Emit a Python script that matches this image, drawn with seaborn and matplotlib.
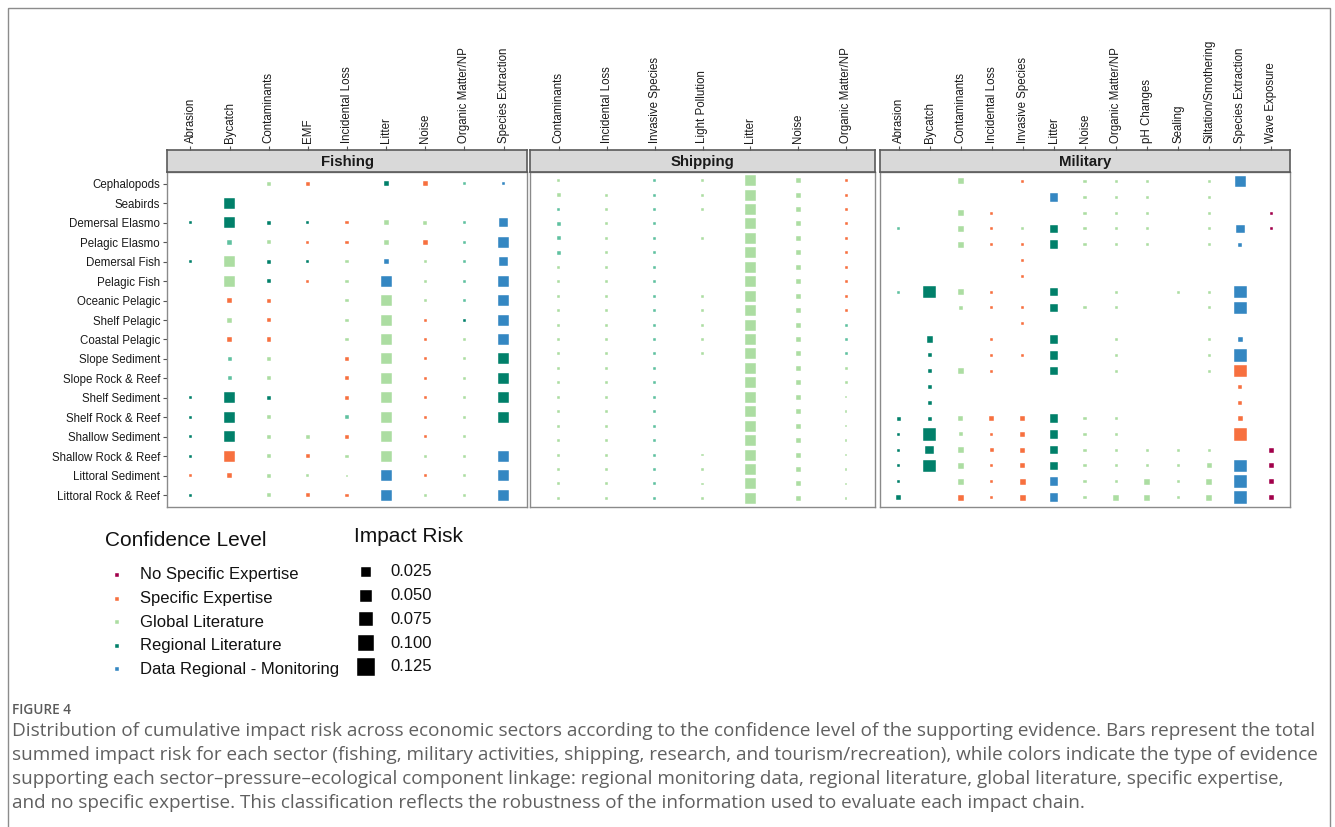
import numpy as np
import pandas as pd
import matplotlib
matplotlib.use("Agg")
import matplotlib.pyplot as plt
import seaborn as sns
from matplotlib.patches import Rectangle

# ecological components (only labelled on the Fishing panel)
components = ["Cephalopods", "Seabirds", "Demersal Elasmo", "Pelagic Elasmo",
              "Demersal Fish", "Pelagic Fish", "Oceanic Pelagic", "Shelf Pelagic",
              "Coastal Pelagic", "Slope Sediment", "Slope Rock & Reef", "Shelf Sediment",
              "Shelf Rock & Reef", "Shallow Sediment", "Shallow Rock & Reef",
              "Littoral Sediment", "Littoral Rock & Reef"]

fishing_pressures = ["Abrasion", "Bycatch", "Contaminants", "EMF", "Incidental Loss",
                     "Litter", "Noise", "Organic Matter/NP", "Species Extraction"]
shipping_pressures = ["Contaminants", "Incidental Loss", "Invasive Species",
                      "Light Pollution", "Litter", "Noise", "Organic Matter/NP"]
military_pressures = ["Abrasion", "Bycatch", "Contaminants", "Incidental Loss",
                      "Invasive Species", "Litter", "Noise", "Organic Matter/NP",
                      "pH Changes", "Sealing", "Siltation/Smothering",
                      "Species Extraction", "Wave Exposure"]

conf_order = ["N", "S", "G", "R", "D"]
conf_labels = ["No Specific Expertise", "Specific Expertise", "Global Literature",
               "Regional Literature", "Data Regional - Monitoring"]
# 'r' = regional literature cells that print in a lighter teal
conf_colors = {"N": "#a1004a", "S": "#f7703f", "G": "#acdda2", "R": "#01806a",
               "r": "#5fc1a0", "D": "#3487c2"}

# impact risk read for each marker size class 1..8
risk_levels = [0.0001, 0.0005, 0.002, 0.0045, 0.008, 0.021, 0.04, 0.057]
legend_risks = [0.025, 0.050, 0.075, 0.100, 0.125]

# cell codes: confidence letter + size class, "." = no link
fishing_grid = [
    ". . G3 S3 . R4 S4 r2 D2",
    ". R7 . . . . . . .",
    "R2 R7 R3 R2 S2 G4 G3 r2 D6",
    ". r4 G3 S2 S2 G4 S4 r2 D7",
    "R2 G7 R3 R2 G2 D4 G2 r2 D6",
    ". G7 R3 S2 G2 D7 G2 r2 D7",
    ". S4 S3 . G2 G7 G2 r2 D7",
    ". G4 S3 . G2 G7 S2 R2 D7",
    ". S4 S3 . G2 G7 S2 G2 D7",
    ". r3 G3 . S3 G7 S2 G2 R7",
    ". r3 G3 . S3 G7 S2 G2 R7",
    "R2 R7 R3 . S3 G7 S2 G2 R7",
    "R2 R7 G3 . r3 G7 S2 G2 R7",
    "R2 R7 G3 G3 S3 G7 S2 G2 .",
    "R2 S7 G3 S3 G2 G7 G2 G2 D7",
    "S2 S4 G3 G2 G1 D7 S2 G2 D7",
    "R2 . G3 S3 S2 D7 G2 G2 D7",
]

shipping_grid = [
    "G2 . r2 G2 G7 G4 S2",
    "G3 G2 r2 G2 G7 G4 S2",
    "r2 G2 r2 G2 G7 G4 S2",
    "r3 G2 r2 . G7 G4 S2",
    "r3 G2 r2 G2 G7 G4 S2",
    "r3 G2 r2 . G7 G4 S2",
    "G2 G2 r2 . G7 G4 S2",
    "G2 G2 r2 . G7 G4 S2",
    "G2 G2 r2 G2 G7 G4 S2",
    "G2 G2 r2 G2 G7 G4 S2",
    "G2 G2 r2 G2 G7 G4 r2",
    "G2 G2 r2 G2 G7 G4 r2",
    "G2 G2 r2 G2 G7 G4 r2",
    "G2 G2 r2 . G7 G4 G2",
    "G2 G2 r2 . G7 G4 G2",
    "G2 G2 r2 . G7 G4 G1",
    "G2 G2 r2 . G7 G4 G1",
    "G2 G2 r2 . G7 G4 G1",
    "G2 G2 r2 . G7 G4 G1",
    "G2 G2 r2 G1 G7 G4 G1",
    "G2 G2 r2 G1 G7 G4 G1",
    "G2 G2 r2 G1 G7 G4 G1",
    "G2 G2 r2 G1 G7 G4 G1",
]

military_grid = [
    ". . G5 . S2 . G2 G2 G2 . G2 D7 .",
    ". . . . . D6 G2 G2 G2 . G2 . .",
    ". . G5 S2 . . G2 G2 G2 . G2 . N2",
    "r2 . G5 S2 G2 R6 G2 G2 G2 . G2 D6 N2",
    ". . G5 S2 S2 R6 G2 G2 G2 . G2 D3 .",
    ". . . . S2 . . . . . . . .",
    ". . . . S2 . . . . . . . .",
    "r2 R8 G5 S2 . R6 . G2 . G2 G2 D8 .",
    ". . G3 S2 S2 R6 G2 G2 . . G2 D8 .",
    ". . . . S2 . . . . . . . .",
    ". R5 . S2 . R6 . G2 . . G2 D4 .",
    ". R3 . S2 S2 R6 . G2 . . G2 D8 .",
    ". R3 G5 S2 . R6 . G2 . . G2 S8 .",
    ". R3 . . . . . . . . . S3 .",
    ". R3 . . . . . . . . . S3 .",
    "R3 R3 G4 S4 S4 R6 G2 G2 . . . S4 .",
    "R2 R8 G3 S2 S4 R6 G2 G2 . . . S8 .",
    "R2 R6 G5 S3 S4 R6 G2 G2 G2 G2 G2 . N4",
    "R2 R8 G5 S2 S4 R6 G2 G2 G2 G2 G4 D8 N4",
    "R2 . G5 S2 S5 D6 G2 G2 G5 G2 G5 D8 N4",
    "R4 . S5 S2 S5 D6 G2 G5 G5 G2 G5 D8 N4",
]

caption_lines = [
    "Distribution of cumulative impact risk across economic sectors according to the confidence level of the supporting evidence. Bars represent the total",
    "summed impact risk for each sector (fishing, military activities, shipping, research, and tourism/recreation), while colors indicate the type of evidence",
    "supporting each sector\u2013pressure\u2013ecological component linkage: regional monitoring data, regional literature, global literature, specific expertise,",
    "and no specific expertise. This classification reflects the robustness of the information used to evaluate each impact chain.",
]


def grid_to_frame(grid):
    recs = []
    for i, line in enumerate(grid):
        for j, tok in enumerate(line.split()):
            if tok == ".":
                continue
            recs.append({"col": j, "row": i, "conf": tok[0],
                         "risk": risk_levels[int(tok[1]) - 1]})
    return pd.DataFrame(recs)


def side_px(v):
    return 2 + 45 * np.sqrt(v)


def area_pt(v):
    return (side_px(v) * 0.72) ** 2


size_map = {v: area_pt(v) for v in risk_levels}

W, H = 1335, 827


def box(x0, y0, x1, y1):
    return [x0 / W, 1 - y1 / H, (x1 - x0) / W, (y1 - y0) / H]


sns.set_style("white")
plt.rcParams["font.family"] = ["Liberation Sans", "DejaVu Sans"]

fig = plt.figure(figsize=(W / 100, H / 100), dpi=100)

panels = [("Fishing", fishing_pressures, fishing_grid, 167, 527),
          ("Shipping", shipping_pressures, shipping_grid, 530, 875),
          ("Military", military_pressures, military_grid, 880, 1290)]

for name, pressures, grid, x0, x1 in panels:
    df = grid_to_frame(grid)
    ncol, nrow = len(pressures), len(grid)
    ax = fig.add_axes(box(x0, 172, x1, 507))
    sns.scatterplot(data=df, x="col", y="row", hue="conf", palette=conf_colors,
                    size="risk", sizes=size_map, marker="s", edgecolor="white",
                    linewidth=0.3, legend=False, ax=ax)
    ax.set_xlim(-0.6, ncol - 0.4)
    ax.set_ylim(nrow - 0.4, -0.6)
    ax.set_xlabel("")
    ax.set_ylabel("")
    ax.set_xticks([])
    for sp in ax.spines.values():
        sp.set_color("#8a8a8a")
        sp.set_linewidth(1.0)
    if name == "Fishing":
        ax.set_yticks(range(nrow))
        ax.set_yticklabels(components, fontsize=8.3, color="#1a1a1a")
        ax.tick_params(axis="y", left=True, length=3, width=0.8, color="#555555", pad=2)
    else:
        ax.set_yticks([])

    sax = fig.add_axes(box(x0, 150, x1, 172))
    sax.set_facecolor("#d9d9d9")
    sax.set_xlim(-0.6, ncol - 0.4)
    sax.set_yticks([])
    sax.xaxis.tick_top()
    sax.set_xticks(range(ncol))
    sax.set_xticklabels(pressures, rotation=90, fontsize=8.3, color="#1a1a1a")
    sax.tick_params(axis="x", top=True, length=3, width=0.8, color="#555555", pad=2)
    for sp in sax.spines.values():
        sp.set_color("#5a5a5a")
        sp.set_linewidth(1.2)
    sax.text(0.5, 0.45, name, transform=sax.transAxes, ha="center", va="center",
             fontsize=10.8, fontweight="bold", color="#1a1a1a")

# overlay in pixel coordinates for legends, caption and frame
ov = fig.add_axes([0, 0, 1, 1])
ov.set_xlim(0, W)
ov.set_ylim(H, 0)
ov.axis("off")

ov.text(105, 540, "Confidence Level", fontsize=15, ha="left", va="center", color="#111111")
for i, (code, lab) in enumerate(zip(conf_order, conf_labels)):
    y = 575 + i * 23.6
    ov.scatter([117], [y], marker="s", s=(5 * 0.72) ** 2, color=conf_colors[code],
               edgecolor="white", linewidth=0.3)
    ov.text(140, y, lab, fontsize=12, ha="left", va="center", color="#111111")

ov.text(354, 537, "Impact Risk", fontsize=15, ha="left", va="center", color="#111111")
for i, v in enumerate(legend_risks):
    y = 572 + i * 23.7
    ov.scatter([366], [y], marker="s", s=area_pt(v), color="black",
               edgecolor="white", linewidth=0.3)
    ov.text(390, y, f"{v:.3f}", fontsize=12, ha="left", va="center", color="#111111")

cap_font = ["Open Sans", "DejaVu Sans"]
ov.text(12, 710, "FIGURE 4", fontsize=9.8, fontweight="semibold", color="#5a5a5a",
        ha="left", va="center", family=cap_font)

# fit the caption font so the long lines span the frame width
renderer = fig.canvas.get_renderer()
probe = ov.text(0, 0, caption_lines[0], fontsize=10, family=cap_font)
probe_w = probe.get_window_extent(renderer).width
probe.remove()
cap_size = 10 * 1306 / probe_w
for i, line in enumerate(caption_lines):
    ov.text(12, 731 + i * 24, line, fontsize=cap_size, color="#606060", ha="left",
            va="center", family=cap_font)

ov.add_patch(Rectangle((8, 8), W - 13, H + 20, fill=False, edgecolor="#8c8c8c",
                       linewidth=1.0))

fig.savefig("out.png", dpi=100)
